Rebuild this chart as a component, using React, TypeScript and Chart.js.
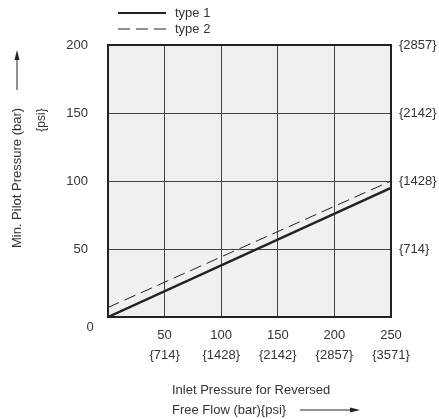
import React, { useEffect, useRef } from "react";
import { Chart, registerables } from "chart.js";

Chart.register(...registerables);

const xValues = [0, 250];
const type1Values = [0, 95];
const type2Values = [7, 100];
const seriesNames = ["type 1", "type 2"];
const xTickBar = [50, 100, 150, 200, 250];
const xTickPsi = ["{714}", "{1428}", "{2142}", "{2857}", "{3571}"];
const yTickBar = [50, 100, 150, 200];
const yTickPsi = ["{714}", "{1428}", "{2142}", "{2857}"];
const xTitle1 = "Inlet Pressure for Reversed";
const xTitle2 = "Free Flow (bar){psi}";
const yTitle1 = "Min. Pilot Pressure (bar)";
const yTitle2 = "{psi}";

const FONT = "'Liberation Sans', Arial, Helvetica, sans-serif";
const TEXT = "#333333";

const decorPlugin = {
  id: "decor",
  beforeDraw(chart: any) {
    const { ctx, chartArea } = chart;
    ctx.save();
    ctx.fillStyle = "#eff0ef";
    ctx.fillRect(chartArea.left, chartArea.top, chartArea.right - chartArea.left, chartArea.bottom - chartArea.top);
    ctx.restore();
  },
  afterDraw(chart: any) {
    const { ctx, chartArea } = chart;
    ctx.save();
    // frame
    ctx.strokeStyle = "#222";
    ctx.lineWidth = 2;
    ctx.strokeRect(chartArea.left, chartArea.top, chartArea.right - chartArea.left, chartArea.bottom - chartArea.top);

    // zero label
    ctx.fillStyle = TEXT;
    ctx.font = `13px ${FONT}`;
    ctx.textAlign = "center";
    ctx.textBaseline = "middle";
    ctx.fillText("0", 90, chartArea.bottom + 10);

    // legend
    ctx.strokeStyle = "#222";
    ctx.lineWidth = 2;
    ctx.beginPath();
    ctx.moveTo(118, 13);
    ctx.lineTo(166, 13);
    ctx.stroke();
    ctx.lineWidth = 1;
    ctx.setLineDash([12, 6]);
    ctx.beginPath();
    ctx.moveTo(118, 29);
    ctx.lineTo(166, 29);
    ctx.stroke();
    ctx.setLineDash([]);
    ctx.textAlign = "left";
    ctx.fillText(seriesNames[0], 175, 13);
    ctx.fillText(seriesNames[1], 175, 29);

    // x title
    ctx.fillText(xTitle1, 172, 390);
    ctx.fillText(xTitle2, 172, 410);
    ctx.strokeStyle = "#222";
    ctx.lineWidth = 1;
    ctx.beginPath();
    ctx.moveTo(300, 410);
    ctx.lineTo(352, 410);
    ctx.stroke();
    ctx.fillStyle = "#222";
    ctx.beginPath();
    ctx.moveTo(360, 410);
    ctx.lineTo(350, 407.5);
    ctx.lineTo(350, 412.5);
    ctx.closePath();
    ctx.fill();

    // y title
    ctx.fillStyle = TEXT;
    ctx.save();
    ctx.translate(17, 178);
    ctx.rotate(-Math.PI / 2);
    ctx.textAlign = "center";
    ctx.fillText(yTitle1, 0, 0);
    ctx.restore();
    ctx.save();
    ctx.translate(42, 120);
    ctx.rotate(-Math.PI / 2);
    ctx.textAlign = "center";
    ctx.font = `12px ${FONT}`;
    ctx.fillText(yTitle2, 0, 0);
    ctx.restore();
    ctx.strokeStyle = "#222";
    ctx.beginPath();
    ctx.moveTo(17, 90);
    ctx.lineTo(17, 58);
    ctx.stroke();
    ctx.fillStyle = "#222";
    ctx.beginPath();
    ctx.moveTo(17, 50);
    ctx.lineTo(14.5, 60);
    ctx.lineTo(19.5, 60);
    ctx.closePath();
    ctx.fill();
    ctx.restore();
  },
};

export default function App() {
  const ref = useRef<HTMLCanvasElement | null>(null);
  useEffect(() => {
    if (!ref.current) return;
    const chart = new Chart(ref.current, {
      type: "line",
      data: {
        datasets: [
          {
            label: seriesNames[0],
            data: xValues.map((x, i) => ({ x, y: type1Values[i] })),
            borderColor: "#222",
            borderWidth: 2.5,
            pointRadius: 0,
            fill: false,
          },
          {
            label: seriesNames[1],
            data: xValues.map((x, i) => ({ x, y: type2Values[i] })),
            borderColor: "#222",
            borderWidth: 1,
            borderDash: [12, 6],
            pointRadius: 0,
            fill: false,
          },
        ],
      },
      options: {
        animation: false,
        responsive: false,
        maintainAspectRatio: false,
        layout: { padding: { top: 45, left: 0, right: 0, bottom: 0 } },
        plugins: { legend: { display: false }, tooltip: { enabled: false }, title: { display: false } },
        scales: {
          x: {
            type: "linear",
            min: 0,
            max: 250,
            afterFit: (s: any) => { s.height = 102; },
            border: { display: false },
            grid: { color: "#444", lineWidth: 1, drawTicks: false },
            ticks: {
              stepSize: 50,
              padding: 9,
              color: TEXT,
              font: { family: FONT, size: 13, lineHeight: 1.5 },
              maxRotation: 0,
              autoSkip: false,
              callback: (v: any) => {
                const i = xTickBar.indexOf(Number(v));
                return i < 0 ? "" : [String(xTickBar[i]), xTickPsi[i]];
              },
            },
          },
          y: {
            position: "left",
            min: 0,
            max: 200,
            afterFit: (s: any) => { s.width = 108; },
            border: { display: false },
            grid: { color: "#444", lineWidth: 1, drawTicks: false },
            ticks: {
              stepSize: 50,
              padding: 20,
              color: TEXT,
              font: { family: FONT, size: 13 },
              callback: (v: any) => {
                const i = yTickBar.indexOf(Number(v));
                return i < 0 ? "" : String(yTickBar[i]);
              },
            },
          },
          y2: {
            position: "right",
            min: 0,
            max: 200,
            afterFit: (s: any) => { s.width = 48; },
            border: { display: false },
            grid: { display: false, drawTicks: false },
            ticks: {
              stepSize: 50,
              padding: 8,
              color: TEXT,
              font: { family: FONT, size: 13 },
              callback: (v: any) => {
                const i = yTickBar.indexOf(Number(v));
                return i < 0 ? "" : yTickPsi[i];
              },
            },
          },
        },
      },
      plugins: [decorPlugin],
    } as any);
    return () => chart.destroy();
  }, []);
  return (
    <div style={{ position: "fixed", left: 0, top: 0, width: 439, height: 419, background: "#fff" }}>
      <canvas ref={ref} width={439} height={419} style={{ width: 439, height: 419, display: "block" }} />
    </div>
  );
}
